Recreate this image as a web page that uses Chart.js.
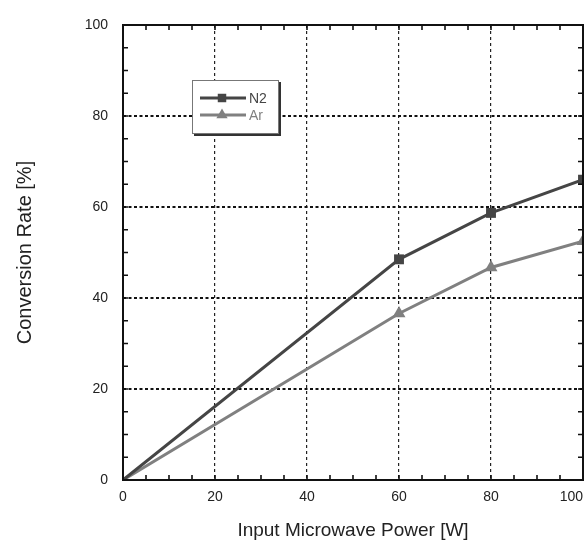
<!DOCTYPE html>
<html lang="en">
<head>
<meta charset="utf-8">
<title>Conversion Rate vs Input Microwave Power</title>
<script src="https://cdn.jsdelivr.net/npm/chart.js@4.4.1/dist/chart.umd.min.js"></script>
<style>
	html, body { margin: 0; padding: 0; background: #fff; }
	.chart-wrap { width: 584px; height: 554px; position: relative; }
</style>
</head>
<body>
<div class="chart-wrap">
	<canvas id="chart-line-js" width="584" height="554"></canvas>
</div>
<script>
"use strict";

// input power [W]
const powerW = [0, 60, 80, 100];
// conversion rate [%]
const rateN2 = [0, 48.5, 58.7, 66];
const rateAr = [0, 36.6, 46.7, 52.5];
const seriesNames = ['N2', 'Ar'];
const xTicks = [0, 20, 40, 60, 80, 100];
const yTicks = [0, 20, 40, 60, 80, 100];

const colN2 = '#454545';
const colAr = '#808080';

function toPoints(xs, ys) {
	return xs.map((x, i) => ({ x: x, y: ys[i] }));
}

function eventHandler() {

	// box round the plot with small inward ticks every 5
	const framePlugin = {
		id: 'frame',
		afterDraw(chart) {
			const { ctx, chartArea: a, scales: { x, y } } = chart;
			ctx.save();
			ctx.strokeStyle = '#111';
			ctx.lineWidth = 2;
			ctx.strokeRect(a.left, a.top, a.right - a.left, a.bottom - a.top);
			ctx.lineWidth = 1.6;
			ctx.beginPath();
			for (let v = 5; v < 100; v += 5) {
				let px = x.getPixelForValue(v);
				ctx.moveTo(px, a.bottom); ctx.lineTo(px, a.bottom - 5);
				ctx.moveTo(px, a.top); ctx.lineTo(px, a.top + 5);
				let py = y.getPixelForValue(v);
				ctx.moveTo(a.left, py); ctx.lineTo(a.left + 5, py);
				ctx.moveTo(a.right, py); ctx.lineTo(a.right - 5, py);
			}
			ctx.stroke();

			// x tick labels, kept inside the canvas
			ctx.font = '14px "Liberation Sans", Arial, sans-serif';
			ctx.fillStyle = '#222';
			ctx.textAlign = 'center';
			ctx.textBaseline = 'middle';
			xTicks.forEach((t) => {
				let label = String(t);
				let w = ctx.measureText(label).width;
				let px = x.getPixelForValue(t);
				if (px + w / 2 > chart.width - 1) px = chart.width - 1 - w / 2;
				ctx.fillText(label, px, a.bottom + 17);
			});
			ctx.restore();
		}
	};

	// legend box inside the plot
	const legendBoxPlugin = {
		id: 'legendBox',
		afterDraw(chart) {
			const { ctx, chartArea: a } = chart;
			const bx = a.left + 69, by = a.top + 55, bw = 87, bh = 54;
			ctx.save();
			ctx.fillStyle = '#333';
			ctx.fillRect(bx + 2, by + 2, bw, bh);
			ctx.fillStyle = '#fff';
			ctx.fillRect(bx, by, bw, bh);
			ctx.strokeStyle = '#777';
			ctx.lineWidth = 1;
			ctx.strokeRect(bx + 0.5, by + 0.5, bw - 1, bh - 1);

			ctx.font = '14px "Liberation Sans", Arial, sans-serif';
			ctx.textBaseline = 'middle';
			ctx.textAlign = 'left';
			chart.data.datasets.forEach((ds, i) => {
				let ly = by + 18 + i * 17;
				ctx.strokeStyle = ds.borderColor;
				ctx.lineWidth = 3;
				ctx.beginPath();
				ctx.moveTo(bx + 8, ly);
				ctx.lineTo(bx + 54, ly);
				ctx.stroke();
				ctx.fillStyle = ds.borderColor;
				Chart.helpers.drawPoint(ctx, { pointStyle: ds.pointStyle, radius: ds.legendRadius, rotation: 0, borderWidth: 0 }, bx + 30, ly);
				ctx.fillStyle = ds.borderColor;
				ctx.fillText(ds.label, bx + 57, ly + 1);
			});
			ctx.restore();
		}
	};

	let chartLineJs = document.getElementById('chart-line-js');

	new Chart(chartLineJs, {
		type: 'line',
		data: {
			datasets: [{
				label: seriesNames[0],
				data: toPoints(powerW, rateN2),
				borderColor: colN2,
				backgroundColor: colN2,
				borderWidth: 3,
				pointStyle: 'rect',
				legendRadius: 6,
				pointRadius: (c) => c.dataIndex === 0 ? 0 : 7,
				pointBorderWidth: 0,
				tension: 0,
			}, {
				label: seriesNames[1],
				data: toPoints(powerW, rateAr),
				borderColor: colAr,
				backgroundColor: colAr,
				borderWidth: 3,
				pointStyle: 'triangle',
				legendRadius: 6.5,
				pointRadius: (c) => c.dataIndex === 0 ? 0 : 7.5,
				pointBorderWidth: 0,
				tension: 0,
			}]
		},
		options: {
			responsive: false,
			animation: false,
			layout: {
				autoPadding: false,
				padding: { top: 25, right: 1, left: 0, bottom: 0 }
			},
			plugins: {
				legend: { display: false },
				tooltip: { enabled: false },
			},
			scales: {
				x: {
					type: 'linear',
					min: 0,
					max: 100,
					afterFit: (s) => { s.height = 74; s.paddingLeft = 0; s.paddingRight = 0; },
					afterBuildTicks: (s) => { s.ticks = xTicks.map((v) => ({ value: v })); },
					ticks: { display: false },
					grid: {
						color: (c) => (c.tick && (c.tick.value === 0 || c.tick.value === 100)) ? 'rgba(0,0,0,0)' : '#222',
						lineWidth: 1.2,
						drawTicks: false,
					},
					border: { display: false, dash: [3, 3] },
					title: {
						display: true,
						text: 'Input Microwave Power [W]',
						color: '#222',
						font: { family: '"Liberation Sans", Arial, sans-serif', size: 19 },
						padding: { top: 0, bottom: 12 },
					},
				},
				y: {
					type: 'linear',
					min: 0,
					max: 100,
					afterFit: (s) => { s.width = 123; },
					afterBuildTicks: (s) => { s.ticks = yTicks.map((v) => ({ value: v })); },
					ticks: {
						color: '#222',
						padding: 15,
						font: { family: '"Liberation Sans", Arial, sans-serif', size: 14 },
					},
					grid: {
						color: (c) => (c.tick && (c.tick.value === 0 || c.tick.value === 100)) ? 'rgba(0,0,0,0)' : '#111',
						lineWidth: 2,
						drawTicks: false,
					},
					border: { display: false, dash: [3, 2.5] },
					title: {
						display: true,
						text: 'Conversion Rate [%]',
						color: '#222',
						font: { family: '"Liberation Sans", Arial, sans-serif', size: 20 },
						padding: { top: 13, bottom: 0 },
					},
				},
			},
		},
		plugins: [framePlugin, legendBoxPlugin],
	});
};
if (document.readyState !== 'loading') {
	eventHandler();
} else {
	document.addEventListener('DOMContentLoaded', eventHandler);
}
</script>
</body>
</html>
